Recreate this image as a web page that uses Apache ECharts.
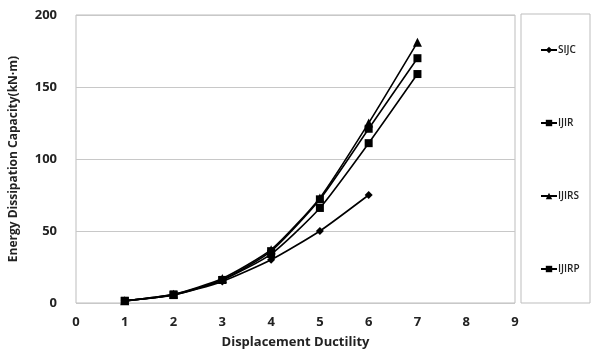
<!DOCTYPE html>
<html><head><meta charset="utf-8">
<script src="https://cdn.jsdelivr.net/npm/echarts@6/dist/echarts.min.js"></script>
<style>html,body{margin:0;padding:0;background:#fff}#c{width:593px;height:354px}</style>
</head><body><div id="c"></div>
<script>
const ductility = [1, 2, 3, 4, 5, 6, 7];
const SIJC  = [1.5, 5.5, 15, 30, 50, 75];
const IJIR  = [1.5, 5.5, 16, 34, 66, 111, 159];
const IJIRS = [1.5, 6, 17, 37, 73, 125, 181];
const IJIRP = [1.5, 6, 16, 36, 72, 121, 170];
const xTicks = [0, 1, 2, 3, 4, 5, 6, 7, 8, 9];
const yTicks = [0, 50, 100, 150, 200];

const pairs = arr => arr.map((v, i) => [ductility[i], v]);
const font = '"Open Sans", sans-serif';
const mk = (name, data, symbol, size) => ({
  name, type: 'line', data: pairs(data), symbol, symbolSize: size,
  itemStyle: {color: '#000'}, lineStyle: {color: '#000', width: 1.6},
  smooth: 0.2, z: 3
});
const chart = echarts.init(document.getElementById('c'));
chart.setOption({
  animation: false,
  backgroundColor: '#fff',
  grid: {left: 72, right: 78, top: 15, bottom: 51, show: true, borderColor: '#bdbdbd', borderWidth: 1},
  xAxis: {
    type: 'value', min: 0, max: 9, interval: 1,
    name: 'Displacement Ductility', nameLocation: 'middle', nameGap: 33,
    nameTextStyle: {fontFamily: font, fontWeight: 'bold', fontSize: 13, color: '#222'},
    axisLine: {show: false}, axisTick: {show: false}, splitLine: {show: false},
    axisLabel: {fontFamily: font, fontWeight: 'bold', fontSize: 13, color: '#222', margin: 13,
      formatter: v => xTicks.includes(v) ? String(v) : ''}
  },
  yAxis: {
    type: 'value', min: 0, max: 200, interval: 50,
    name: 'Energy Dissipation Capacity(kN·m)', nameLocation: 'middle', nameGap: 56,
    nameTextStyle: {fontFamily: font, fontWeight: 'bold', fontSize: 12, color: '#222'},
    axisLine: {show: false}, axisTick: {show: false},
    splitLine: {lineStyle: {color: '#c8c8c8', width: 1}},
    axisLabel: {fontFamily: font, fontWeight: 'bold', fontSize: 13, color: '#222', margin: 19,
      formatter: v => yTicks.includes(v) ? String(v) : ''}
  },
  legend: {
    orient: 'vertical', left: 535, top: 40, itemGap: 63, itemWidth: 16, itemHeight: 8,
    textStyle: {fontFamily: font, fontSize: 10, fontWeight: 600, color: '#222', padding: [0, 0, 0, -4]},
    data: ['SIJC', 'IJIR', 'IJIRS', 'IJIRP']
  },
  graphic: [{type: 'rect', shape: {x: 521, y: 14, width: 69, height: 289},
    style: {fill: 'none', stroke: '#bdbdbd', lineWidth: 1}}],
  series: [
    mk('SIJC', SIJC, 'diamond', 8),
    mk('IJIR', IJIR, 'rect', 8),
    mk('IJIRS', IJIRS, 'triangle', 9),
    mk('IJIRP', IJIRP, 'rect', 8)
  ]
});
</script></body></html>
